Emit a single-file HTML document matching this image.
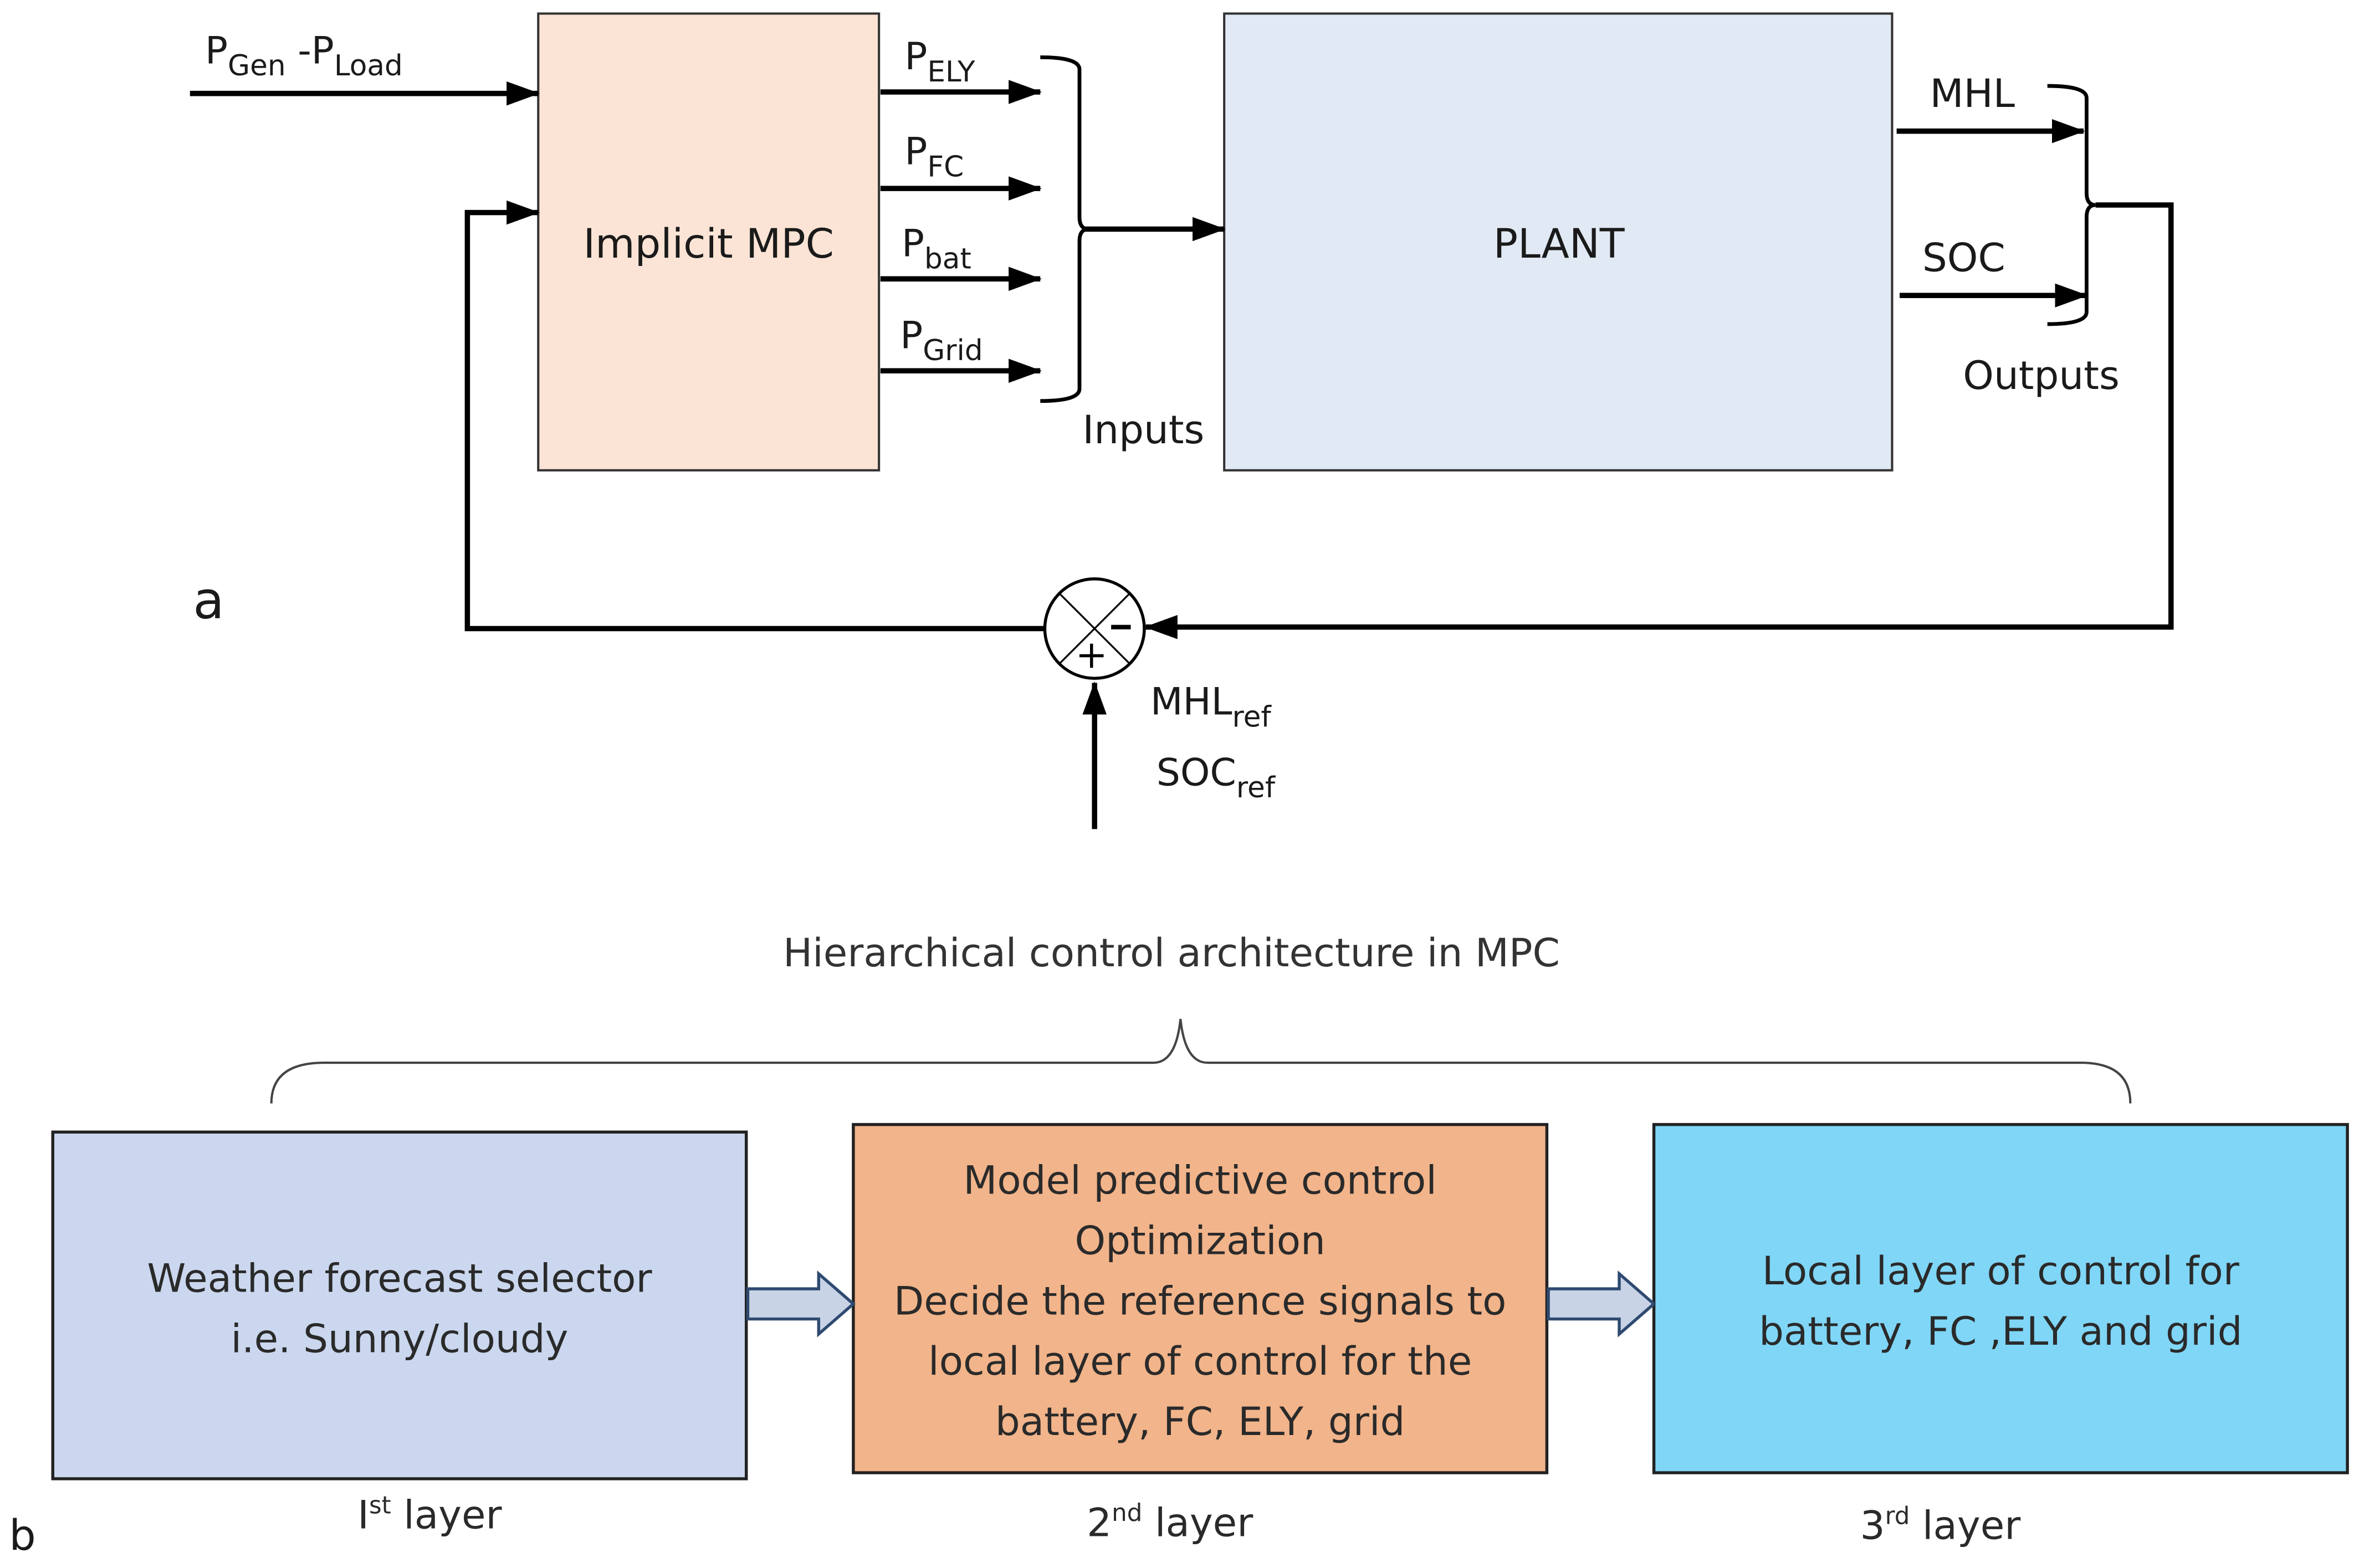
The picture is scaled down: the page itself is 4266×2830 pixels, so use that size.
<!DOCTYPE html>
<html><head><meta charset="utf-8"><style>html,body{margin:0;padding:0;background:#fff}svg{display:block}</style></head>
<body>
<svg width="4266" height="2830" viewBox="0 0 1568 1040.2" preserveAspectRatio="none" xmlns="http://www.w3.org/2000/svg" font-family="'DejaVu Sans','Liberation Sans',sans-serif" fill="#1a1a1a">
<defs>
<marker id="b" markerWidth="22" markerHeight="16" refX="21" refY="8" orient="auto" markerUnits="userSpaceOnUse" viewBox="0 0 22 16"><path d="M0,0 L22,8 L0,16 z" fill="#000"/></marker></defs>
<rect x="357" y="9" width="226" height="303" fill="#fbe4d5" stroke="#333" stroke-width="1.5"/>
<rect x="812" y="9" width="443" height="303" fill="#e1e9f4" stroke="#333" stroke-width="1.5"/>
<text x="470" y="171" font-size="27" text-anchor="middle">Implicit MPC</text>
<text x="1034" y="171" font-size="27" text-anchor="middle">PLANT</text>
<g stroke="#000" stroke-width="3.5" fill="none">
<line x1="126" y1="62" x2="357" y2="62" marker-end="url(#b)"/>
<line x1="584" y1="61" x2="690" y2="61" marker-end="url(#b)"/>
<line x1="584" y1="125" x2="690" y2="125" marker-end="url(#b)"/>
<line x1="584" y1="185" x2="690" y2="185" marker-end="url(#b)"/>
<line x1="584" y1="246" x2="690" y2="246" marker-end="url(#b)"/>
<line x1="718" y1="152" x2="812" y2="152" marker-end="url(#b)"/>
<line x1="1258" y1="87" x2="1382" y2="87" marker-end="url(#b)"/>
<line x1="1260" y1="196" x2="1384" y2="196" marker-end="url(#b)"/>
<polyline points="1390,136 1440,136 1440,416 760,416" marker-end="url(#b)"/>
<polyline points="693,417 310,417 310,141 357,141" marker-end="url(#b)"/>
<line x1="726" y1="550" x2="726" y2="453" marker-end="url(#b)"/>
</g>
<g stroke="#000" stroke-width="2.5" fill="none">
<path d="M690,38 Q716,38 716,46 L716,144 Q716,152 722,152 Q716,152 716,160 L716,258 Q716,266 690,266"/>
<path d="M1358,57 Q1384,57 1384,65 L1384,128 Q1384,136 1390,136 Q1384,136 1384,144 L1384,207 Q1384,215 1358,215"/>
<circle cx="726" cy="417" r="33" fill="#fff" stroke-width="2"/>
<line x1="703" y1="394" x2="749" y2="440" stroke-width="1.2"/><line x1="749" y1="394" x2="703" y2="440" stroke-width="1.2"/>
<line x1="737" y1="416" x2="750" y2="416" stroke-width="3"/>
<line x1="716" y1="435" x2="732" y2="435" stroke-width="2"/><line x1="724" y1="427" x2="724" y2="443" stroke-width="2"/>
</g>
<g font-size="25">
<text x="136" y="42">P<tspan font-size="19" dy="8">Gen</tspan><tspan dy="-8"> -P</tspan><tspan font-size="19" dy="8">Load</tspan></text>
<text x="600" y="46">P<tspan font-size="19" dy="8">ELY</tspan></text>
<text x="600" y="109">P<tspan font-size="19" dy="8">FC</tspan></text>
<text x="598" y="170">P<tspan font-size="19" dy="8">bat</tspan></text>
<text x="597" y="231">P<tspan font-size="19" dy="8">Grid</tspan></text>
<text x="1280" y="71" font-size="26">MHL</text>
<text x="1275" y="180" font-size="26">SOC</text>
<text x="1302" y="258" font-size="26">Outputs</text>
<text x="718" y="294" font-size="26">Inputs</text>
<text x="128" y="410" font-size="34">a</text>
<text x="763" y="474" font-size="25">MHL<tspan font-size="19" dy="8">ref</tspan></text>
<text x="767" y="521" font-size="25">SOC<tspan font-size="19" dy="8">ref</tspan></text>
</g>
<text x="777" y="641" font-size="26" text-anchor="middle" fill="#333">Hierarchical control architecture in MPC</text>
<path d="M180,732 Q180,705 215,705 L765,705 Q780,705 783,676 Q786,705 801,705 L1380,705 Q1413,705 1413,732" fill="none" stroke="#444" stroke-width="1.5"/>
<rect x="35" y="751" width="460" height="230" fill="#cad7ee" stroke="#222" stroke-width="2"/>
<rect x="566" y="746" width="460" height="231" fill="#f2b48a" stroke="#222" stroke-width="2"/>
<rect x="1097" y="746" width="460" height="231" fill="#80d6f6" stroke="#222" stroke-width="2"/>
<g fill="#c9d3e6" stroke="#2f4a70" stroke-width="2">
<path d="M496,855 L543,855 L543,845 L566,865 L543,885 L543,875 L496,875 z"/>
<path d="M1027,855 L1074,855 L1074,845 L1097,865 L1074,885 L1074,875 L1027,875 z"/>
</g>
<g font-size="26" text-anchor="middle" fill="#2a2a2a">
<text x="265" y="857">Weather forecast selector</text>
<text x="265" y="897">i.e. Sunny/cloudy</text>
<text x="796" y="792">Model predictive control</text>
<text x="796" y="832">Optimization</text>
<text x="796" y="872">Decide the reference signals to</text>
<text x="796" y="912">local layer of control for the</text>
<text x="796" y="952">battery, FC, ELY, grid</text>
<text x="1327" y="852">Local layer of control for</text>
<text x="1327" y="892">battery, FC ,ELY and grid</text>
<text x="285" y="1014">I<tspan font-size="16" dy="-10">st</tspan><tspan dy="10"> layer</tspan></text>
<text x="776" y="1019">2<tspan font-size="16" dy="-10">nd</tspan><tspan dy="10"> layer</tspan></text>
<text x="1287" y="1021">3<tspan font-size="16" dy="-10">rd</tspan><tspan dy="10"> layer</tspan></text>
</g>
<text x="6" y="1028" font-size="28">b</text>
</svg>
</body></html>
